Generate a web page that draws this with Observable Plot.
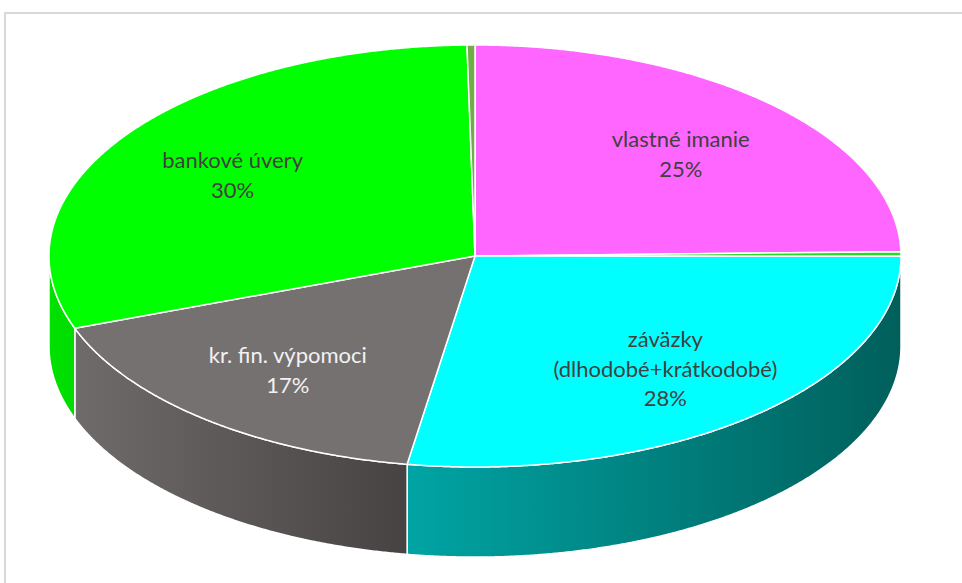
<!DOCTYPE html>
<html>
<head>
<meta charset="utf-8">
<script src="https://cdn.jsdelivr.net/npm/d3@7"></script>
<script src="https://cdn.jsdelivr.net/npm/@observablehq/plot@0.6"></script>
<style>
  html, body { margin: 0; padding: 0; background: #fff; overflow: hidden; }
  #wrap { position: relative; width: 962px; height: 583px; overflow: hidden; }
  #frame { position: absolute; left: 4px; top: 12px; width: 1000px; height: 640px;
           border: 2px solid #d9d9d9; box-sizing: border-box; }
  #chart { position: absolute; left: 0; top: 0; }
</style>
</head>
<body>
<div id="wrap"><div id="frame"></div><div id="chart"></div></div>
<script>
// Štruktúra pasív (podiel v %), poradie v smere hodinových ručičiek od 12:00
const categories = ["vlastné imanie", "rezervy", "záväzky (dlhodobé+krátkodobé)",
                    "kr. fin. výpomoci", "bankové úvery", "časové rozlíšenie"];
const shares = [24.7, 0.35, 27.55, 16.9, 30.3, 0.3];

// farby vrchnej plochy a boku (svetlejší / tmavší koniec prechodu)
const topColors  = ["#ff66ff", "#22dd22", "#00ffff", "#767171", "#00ff00", "#70ad47"];
const sideLight  = ["#e85ce8", "#1fc21f", "#00a4a4", "#6f6b6b", "#00e200", "#5f9a3c"];
const sideDark   = ["#b848b8", "#158f15", "#005f5b", "#474343", "#00dc00", "#4d7f30"];
const labelColor = ["#404040", "#404040", "#404040", "#f2f2f2", "#404040", "#404040"];

const TAU = 2 * Math.PI;
const DEPTH = 0.427;        // hrúbka koláča v jednotkách polomeru (os y)
const LABEL_R = 0.69;       // vzdialenosť popisu od stredu
const total = d3.sum(shares);

let acc = 0;
const slices = categories.map((name, i) => {
  const a0 = acc / total * TAU;
  acc += shares[i];
  const a1 = acc / total * TAU;
  return {name, i, a0, a1, pct: Math.round(shares[i] / total * 100)};
});

// body oblúka: uhol meraný od 12:00 v smere hodinových ručičiek
const STEP = Math.PI / 720;
function arc(a0, a1, drop) {
  const n = Math.max(2, Math.ceil((a1 - a0) / STEP));
  return d3.range(n + 1).map(k => {
    const t = a0 + (a1 - a0) * k / n;
    return {x: Math.sin(t), y: Math.cos(t) - drop};
  });
}

const sideMarks = [];
const topMarks = [];
for (const s of slices) {
  const b0 = Math.max(s.a0, Math.PI / 2), b1 = Math.min(s.a1, 3 * Math.PI / 2);
  if (b1 > b0) {
    const pts = [...arc(b0, b1, 0), ...arc(b0, b1, DEPTH).reverse()];
    sideMarks.push(Plot.line(pts, {x: "x", y: "y", curve: "linear-closed",
      fill: `url(#side-${s.i})`, stroke: "white", strokeWidth: 1.5, strokeLinejoin: "round"}));
  }
  const wedge = [{x: 0, y: 0}, ...arc(s.a0, s.a1, 0)];
  topMarks.push(Plot.line(wedge, {x: "x", y: "y", curve: "linear-closed",
    fill: topColors[s.i], stroke: "white", strokeWidth: 1.5, strokeLinejoin: "round"}));
}

const labels = slices.filter(s => s.pct >= 1).map(s => {
  const m = (s.a0 + s.a1) / 2;
  return {
    x: LABEL_R * Math.sin(m),
    y: LABEL_R * Math.cos(m),
    text: s.name.replace(" (", "\n(") + "\n" + s.pct + "%",
    color: labelColor[s.i]
  };
});

const textOpts = {x: "x", y: "y", text: "text", fontSize: 22, lineHeight: 1.36,
                  fontFamily: "Lato, 'Open Sans', sans-serif"};

const chart = Plot.plot({
  width: 962,
  height: 583,
  margin: 0,
  x: {domain: [-1, 1], range: [48.5, 900.5], axis: null},
  y: {domain: [-1, 1], range: [466.5, 44.5], axis: null},
  style: {background: "transparent"},
  marks: [
    ...sideMarks,
    ...topMarks,
    Plot.text(labels.filter(d => d.color === "#404040"), {...textOpts, fill: "#404040"}),
    Plot.text(labels.filter(d => d.color !== "#404040"), {...textOpts, fill: "#f2f2f2"})
  ]
});

// prechody farieb pre bočné plochy
const defs = d3.select(chart).insert("defs", ":first-child");
slices.forEach(s => {
  const g = defs.append("linearGradient").attr("id", `side-${s.i}`)
    .attr("x1", 0).attr("x2", 1).attr("y1", 0).attr("y2", 0);
  g.append("stop").attr("offset", 0).attr("stop-color", sideLight[s.i]);
  g.append("stop").attr("offset", 1).attr("stop-color", sideDark[s.i]);
});

document.getElementById("chart").append(chart);
</script>
</body>
</html>
